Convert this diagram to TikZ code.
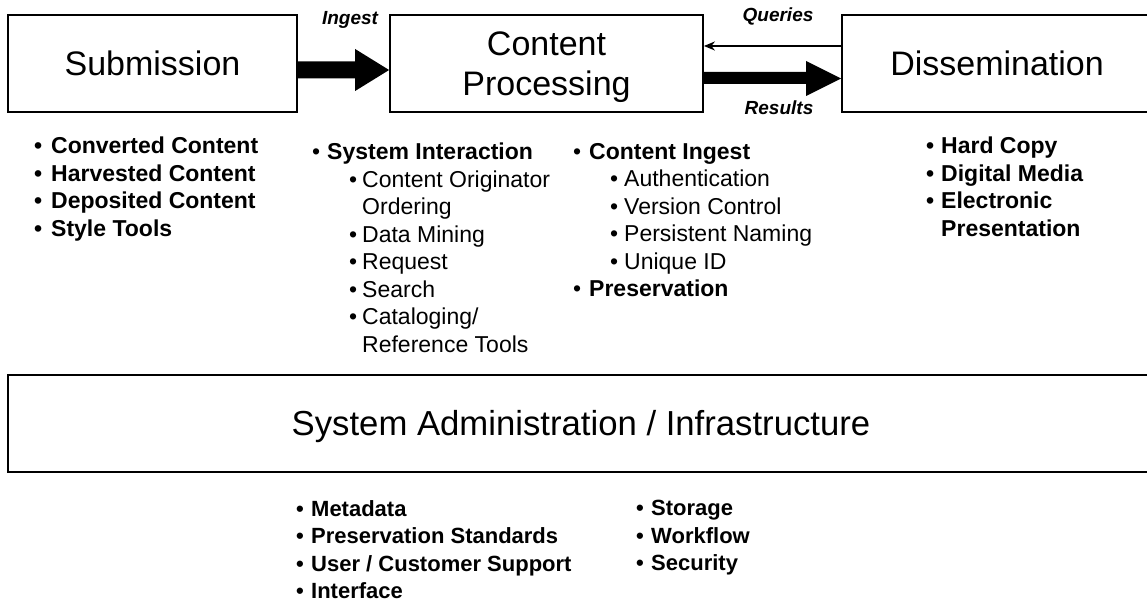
\documentclass[tikz,border=0pt]{standalone}
\usepackage{fontspec}
\setmainfont{Liberation Sans}
\usetikzlibrary{calc,arrows.meta}
\newcommand\lbul[1]{\makebox[#1][l]{•}}
\tikzset{
  box/.style={draw, line width=1.8pt, inner sep=0pt, align=center,
    font=\fontsize{34}{40}\selectfont},
  lst/.style={anchor=north west, inner sep=0pt, align=left,
    font=\fontsize{23}{27.5}\selectfont},
  lstb/.style={lst, font=\fontsize{23}{27.5}\selectfont\bfseries},
  lstc/.style={lst, font=\fontsize{22}{27.6}\selectfont\bfseries},
  lbl/.style={inner sep=0pt, font=\fontsize{19}{22}\selectfont\bfseries\itshape},
}
\begin{document}
\begin{tikzpicture}[x=1pt,y=-1pt]
\useasboundingbox (0,0) rectangle (1147,601);
\clip (0,0) rectangle (1147,601);
\fill[white] (0,0) rectangle (1147,601);
% main boxes
\node[box, minimum width=289pt, minimum height=97pt] (sub) at (152.5,63.5) {Submission};
\node[box, minimum width=313pt, minimum height=97pt, text height=64.5pt, text depth=0pt] (cp) at (546.5,63.5) {Content\\Processing};
\node[box, minimum width=310pt, minimum height=97pt] (dis) at (997,63.5) {Dissemination};
\node[box, minimum width=1146pt, minimum height=97pt, text height=24.5pt, text depth=0pt,
  font=\fontsize{34.7}{40}\selectfont] (sa) at (581,423.5) {System Administration / Infrastructure};
% Ingest arrow
\fill ($(sub.east)+(0,-2)$) -- ($(cp.west)+(-34,-2)$) -- ($(cp.west)+(-34,-14.5)$)
  -- ($(cp.west)+(0,6.5)$) -- ($(cp.west)+(-34,27.5)$) -- ($(cp.west)+(-34,15)$)
  -- ($(sub.east)+(0,15)$) -- cycle;
% Results arrow
\fill ($(cp.east)+(0,8.5)$) -- ($(dis.west)+(-35,8.5)$) -- ($(dis.west)+(-35,-2.5)$)
  -- ($(dis.west)+(0,15)$) -- ($(dis.west)+(-35,32.5)$) -- ($(dis.west)+(-35,20.5)$)
  -- ($(cp.east)+(0,20.5)$) -- cycle;
% Queries arrow
\draw[line width=1.5pt, -{Stealth[length=11pt,width=9pt]}] ($(dis.west)+(0,-17.5)$) -- ($(cp.east)+(0,-17.5)$);
% labels
\node[lbl] (lin) at (350,20) {Ingest};
\node[lbl] (lq) at (778,16) {Queries};
\node[lbl] (lr) at (779,108) {Results};
% lists
\node[lstb] (l1) at (34,137)
  {\lbul{17pt}Converted Content\\
   \lbul{17pt}Harvested Content\\
   \lbul{17pt}Deposited Content\\
   \lbul{17pt}Style Tools};
\node[lst] (l2) at (312,143)
  {\lbul{15pt}\textbf{System Interaction}\\
   \hspace*{37pt}\lbul{13pt}Content Originator\\
   \hspace*{50pt}Ordering\\
   \hspace*{37pt}\lbul{13pt}Data Mining\\
   \hspace*{37pt}\lbul{13pt}Request\\
   \hspace*{37pt}\lbul{13pt}Search\\
   \hspace*{37pt}\lbul{13pt}Cataloging/\\
   \hspace*{50pt}Reference Tools};
\node[lst] (l3) at (573,143)
  {\lbul{16pt}\textbf{Content Ingest}\\
   \hspace*{37pt}\lbul{14pt}Authentication\\
   \hspace*{37pt}\lbul{14pt}Version Control\\
   \hspace*{37pt}\lbul{14pt}Persistent Naming\\
   \hspace*{37pt}\lbul{14pt}Unique ID\\
   \lbul{16pt}\textbf{Preservation}};
\node[lstb] (l4) at (926,137)
  {\lbul{15pt}Hard Copy\\
   \lbul{15pt}Digital Media\\
   \lbul{15pt}Electronic\\
   \hspace*{15pt}Presentation};
\node[lstc] (l5) at (296,500)
  {\lbul{15pt}Metadata\\
   \lbul{15pt}Preservation Standards\\
   \lbul{15pt}User / Customer Support\\
   \lbul{15pt}Interface};
\node[lstc] (l6) at (636,500)
  {\lbul{15pt}Storage\\
   \lbul{15pt}Workflow\\
   \lbul{15pt}Security};
\end{tikzpicture}
\end{document}
